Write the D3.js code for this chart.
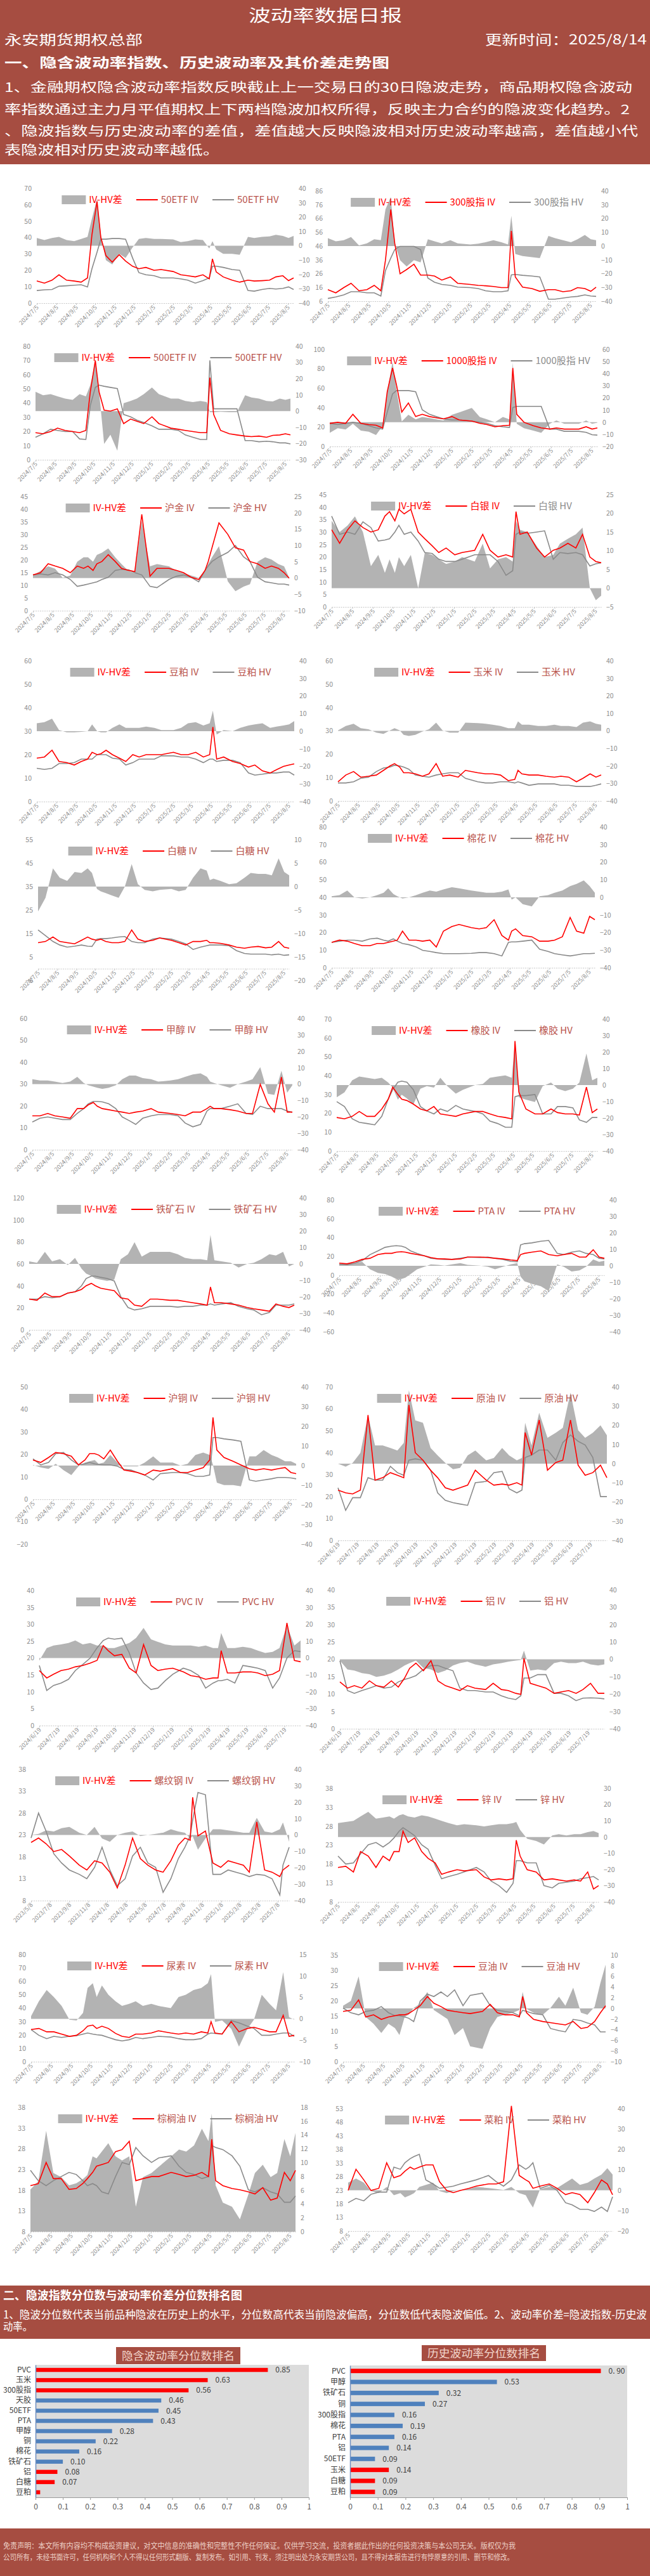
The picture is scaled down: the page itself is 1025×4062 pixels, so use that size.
<!DOCTYPE html>
<meta charset="utf-8">
<style>
body { margin: 0; background: #fff; }
svg text { font-family: "Noto Sans CJK SC", "Noto Sans", sans-serif; }
.tk text { font-family: "Liberation Sans Narrow", "Noto Sans CJK SC", sans-serif; }
</style>
<body>
<script src="https://d3js.org/d3.v7.min.js"></script>
<script>
// sample dates (three different x ranges used by the panels)
var DATES_A = ["2024-07-05","2024-07-17","2024-07-29","2024-08-09","2024-08-21","2024-09-02","2024-09-13","2024-09-23","2024-09-30","2024-10-08","2024-10-14","2024-10-22","2024-11-01","2024-11-12","2024-11-22","2024-12-03","2024-12-13","2024-12-24","2025-01-06","2025-01-17","2025-02-05","2025-02-17","2025-02-28","2025-03-12","2025-03-24","2025-04-03","2025-04-08","2025-04-14","2025-04-25","2025-05-09","2025-05-21","2025-06-03","2025-06-13","2025-06-25","2025-07-07","2025-07-17","2025-07-28","2025-08-06","2025-08-14"];
var DATES_B = ["2024-06-19","2024-07-01","2024-07-12","2024-07-24","2024-08-05","2024-08-16","2024-08-28","2024-09-09","2024-09-20","2024-09-30","2024-10-08","2024-10-18","2024-10-30","2024-11-11","2024-11-22","2024-12-04","2024-12-16","2024-12-27","2025-01-08","2025-01-20","2025-02-06","2025-02-18","2025-03-03","2025-03-14","2025-03-26","2025-04-03","2025-04-08","2025-04-18","2025-04-30","2025-05-13","2025-05-26","2025-06-06","2025-06-18","2025-06-30","2025-07-11","2025-07-23","2025-08-04","2025-08-14"];
var DATES_C = ["2023-05-08","2023-06-01","2023-06-25","2023-07-20","2023-08-14","2023-09-08","2023-10-10","2023-11-03","2023-11-28","2023-12-22","2024-01-16","2024-02-09","2024-03-05","2024-03-29","2024-04-23","2024-05-17","2024-06-11","2024-07-05","2024-07-30","2024-08-23","2024-09-13","2024-09-30","2024-10-08","2024-10-25","2024-11-18","2024-12-12","2025-01-06","2025-01-30","2025-02-24","2025-03-20","2025-04-08","2025-05-02","2025-05-27","2025-06-20","2025-07-15","2025-07-25","2025-08-14"];

// x tick labels
var TICKS_A = ["2024-07-05","2024-08-05","2024-09-05","2024-10-05","2024-11-05","2024-12-05","2025-01-05","2025-02-05","2025-03-05","2025-04-05","2025-05-05","2025-06-05","2025-07-05","2025-08-05"];
var TICKS_B = ["2024-06-19","2024-07-19","2024-08-19","2024-09-19","2024-10-19","2024-11-19","2024-12-19","2025-01-19","2025-02-19","2025-03-19","2025-04-19","2025-05-19","2025-06-19","2025-07-19"];
var TICKS_C = ["2023-05-08","2023-07-08","2023-09-08","2023-11-08","2024-01-08","2024-03-08","2024-05-08","2024-07-08","2024-09-08","2024-11-08","2025-01-08","2025-03-08","2025-05-08","2025-07-08"];

// IV, HV and IV-HV per product
var ivEtf50 = [13.5,12.2,14,17.3,14,13.5,12.8,15.4,41.7,62,40,29,25,29.5,25.7,22.5,21,21.8,20,20.5,19.3,17.3,16.7,16,17.3,14.8,27,19,16,14,12.8,14,13.5,13.7,14,16,16.7,13.7,15.4];
var hvEtf50 = [7.7,8.1,8.3,10.3,10.6,10.9,11.2,9.9,21,31,39,39,39.4,39.4,39,27.6,18.6,17.3,16.7,15.4,15.4,14.8,14,12.2,13.7,15.4,22.5,22.5,21.8,20.5,20,7.7,7.3,8.3,9,8.6,9,9.9,8.3];
var dfEtf50 = [5.4,4,5.4,6.2,4,3.2,4.7,6.2,19,32.6,7.6,-10,-13,-5.6,-8.5,-1.2,4.7,5.4,4.7,4.7,4.4,2.5,3.2,4.4,4,-1.9,3.2,-2.6,-5.6,-5.6,-6.3,6.2,5.4,6.2,6.5,7.6,6.9,5.4,6.9];

var ivIdx300 = [14.4,12.1,15.9,19,13.6,14.4,17.5,13.6,35.8,72.5,48,25.9,29,32.8,25,25,24.3,21.3,23.6,19,18.2,17.5,17.2,16.7,15.9,15.9,57,23.6,16.2,15.2,13.2,14.4,14.4,12.9,13.6,15.9,15.2,13.2,16.2];
var hvIdx300 = [8,9.1,10.6,12.9,12.9,12.1,12.1,9.8,28.2,37.3,43.5,45.8,45.8,45.8,43.5,22.8,19.8,18.2,17.5,16.2,15.9,15.2,13.6,12.9,12.9,13.6,25.1,25.4,24.8,24.3,23.6,7.5,7.5,8.3,9.1,9.5,10.6,9.8,9.5];
var dfIdx300 = [5.8,3.5,4.3,6.6,0.5,2,5,4.3,26.5,35.6,2,-10.2,-14.8,-10.2,-11.8,5,3.5,2,4.3,2,1.2,1.7,2.8,4.3,2.8,1.2,21.9,-5.7,-7.2,-8,-8.7,7.3,5.8,4.3,2.8,5,8.1,5,4.3];

var ivEtf500 = [19.1,18.3,19.9,22.3,20.7,19.9,19.1,20.7,47.8,70,47.8,35,34.3,35.9,25.5,28.7,27.1,25.5,30.3,25.5,22.3,21.5,20.7,19.9,19.1,19.1,57.9,31.9,20.7,18.3,17.5,16.7,16.3,16.7,15.9,17.2,17.5,18.3,17.5];
var hvEtf500 = [15.9,18.3,21.5,20.7,19.9,19.9,14.7,14.3,38.2,51,52.6,51.8,51,50.2,31.9,30.3,27.9,26.3,23.9,21.5,21.5,20.7,17.5,15.9,14.3,14.3,70,35.9,35.9,35.9,35.9,13.5,13.5,12.7,13.1,12.7,11.9,11.9,11.2];
var dfEtf500 = [11.9,9.8,10.5,9.1,7.7,7,10.5,9.1,16,30,11.9,-20.2,-14.6,-24.4,4.9,6.3,7.7,10.5,14.6,10.5,7.7,7.7,6.3,5.6,6.3,5.6,-0.7,-0.7,-0.4,-0.7,-0.7,9.8,8.4,7.7,6.3,6,7.7,7,7.7];

var ivIdx1000 = [23.8,24.9,23.8,33.1,23.8,22.6,21.9,19.1,56.4,80.9,63.4,35.4,44.8,30.8,33.1,30.8,29.6,28.4,30.8,27.3,26.1,23.8,22.6,20.3,21.4,21.9,80.9,33.1,24.9,21.4,19.1,17.9,19.1,17.9,17.9,17.9,20.3,17.9,19.1];
var hvIdx1000 = [23.8,22.6,23.8,24.9,23.8,21.4,19.1,17.9,35.4,54.1,57.6,57.6,57.6,56.4,37.8,33.1,30.8,28.4,27.3,27.3,26.1,24.9,23.8,21.4,20.3,19.6,40.1,41.3,41.3,41.3,41.3,17.9,17.9,15.6,15.6,15.6,14.5,12.1,11.7];
var dfIdx1000 = [-8.8,-5,-6,-1.3,-6.9,-7.8,-10.6,-3.2,24.8,50,26.7,0.6,6.2,2.4,4.3,3.4,2.4,1.5,6.2,8.1,11.8,4.3,2.4,0,4.3,2.4,49,-1.3,-5,-6.9,-8.8,-1.3,1.5,-1.3,-1.3,-1.3,1.5,-1.3,-0.4];

var ivGold = [14.1,15,18.5,17.6,16.7,15,17.6,16.7,17.6,15.9,18.5,19.4,22.1,19.4,16.7,15.9,15.4,38,13.6,16.7,16.7,15.9,15,13.2,12.3,15.9,19.4,24.8,34.6,30.1,24.8,23.9,19.4,18.5,16.7,17.6,16.7,15,12.8];
var hvGold = [14.1,14.5,14.1,15,14.1,12.3,9.6,10.1,10.5,11,11.4,12.3,13.2,15.9,16.3,16.1,15,14.1,9.6,9.1,12.3,13.6,14.1,13.2,11.4,15.9,17.6,19.4,21.2,23,25.7,21.2,19.4,13.2,11.4,11,10.5,10.5,10.1];
var dfGold = [0.8,2.2,3.6,2.9,0.1,0.8,5,6.4,6.4,5,7.1,7.8,9.1,6.4,4.3,2.2,1.5,17.5,3.6,4.3,3.6,2.2,1.5,0.8,0.1,2.2,4.3,6.4,9.8,-1,-4,-2.6,-1.9,5,6.4,5.7,4.3,3.6,0.1];

var ivSilver = [30.9,25.5,30.9,34.5,31.8,30,30.9,36.4,38.2,34.5,39.1,37.3,39.1,30,27.3,24.5,21.8,23.6,20.9,21.8,22.7,29.1,22.7,20,20.9,20,38.2,29.1,30,23.6,20,22.7,23.6,25.5,23.6,29.1,20,18.2,17.7];
var hvSilver = [36.4,29.1,30,29.1,34.1,31.8,26.4,26.8,27.3,30,32.7,29.1,30,26.4,21.8,21.4,19.1,18.2,18.2,19.1,20.9,20.9,20.9,18.2,12.7,14.5,29.1,30,29.5,30,30.5,19.1,21.8,21.4,21.8,20.9,16.4,17.3,17.7];
var dfSilver = [18,15,16.8,19.2,15,5.9,8.9,4.1,7.7,4.1,8.3,5.9,8.9,0,9.5,8.9,7.7,6.5,7.1,8.3,7.1,11.9,5.3,7.7,8.3,7.1,18,15.6,15,11.3,8.3,8.9,11.9,13.2,14.4,16.2,0,-3.2,-2];

var ivMeal = [18.5,19,21.9,17.1,16.6,15.6,17.1,18.1,21,20,20.4,21.9,20,18.5,17.1,20,19,20,20,20,21,20,20,21,19,20,31.8,18.1,19,17.1,16.2,14.7,15.6,13.1,12.2,13.6,15,15.6,16.1];
var hvMeal = [14.2,13.7,14.2,16.2,16.2,16.6,18.1,18.1,18.1,20,20,20,18.5,18.1,15.6,16.6,18.1,18.1,18.1,19.5,19.5,19,19,18.1,16.6,18.1,18.1,17.1,17.6,17.6,16.6,12.2,11.3,11.7,12.2,12.2,12.6,12.6,11.3];
var dfMeal = [4.5,5.1,7.1,0.6,-0.6,-0.6,-0.4,0,3.9,0,-0.6,-0.6,1.9,3.9,1.9,1.9,1.9,2.6,1.9,0.6,0.6,1.9,4.5,5.1,3.2,4.5,11.6,-1.9,0.6,0,1.9,3.2,3.9,4.5,1.9,2.6,3.2,3.9,5.8];

var ivCorn = [8.2,11.1,12.6,10.2,10.6,11.1,13.1,15,16,14.5,12.1,12.1,11.6,10.6,11.6,16,10.6,11.1,10.2,13.1,12.1,11.6,11.6,11.1,8.7,9.2,13.1,11.6,11.1,11.1,10.6,10.2,10.6,10.2,8.2,9.7,11.6,10.2,11.1];
var hvCorn = [7.7,7.7,8.2,9.7,10.2,12.6,14.1,14.5,15.3,15,14.5,13.6,11.1,10.6,10.2,11.1,11.6,12.1,12.1,9.7,8.2,7.7,7.7,8.2,8.2,7.7,8.2,7.7,6.7,7.3,7.3,7.3,6.7,6.7,6.2,6.2,6.2,6.7,7.3];
var dfCorn = [0.3,2.8,4.1,1.5,0.9,-1,-1.7,0.3,1.5,0.3,-2.3,-2.9,-2.3,-0.4,0.9,4.7,0.3,-1,-1,4.7,4.4,4.1,3.5,2.8,1.5,1.5,5.4,3.5,3.5,2.8,2.8,3.5,2.8,2.8,2.2,4.7,5.4,4.1,3.5];

var ivSugar = [11.1,11.6,13.5,11.6,11.1,10.6,12.1,13.5,12.6,12.1,12.6,11.6,11.1,11.1,11.6,16.5,12.6,11.6,12.1,13.1,12.1,11.1,10.1,11.6,11.6,12.1,11.1,11.1,10.8,10.1,9.2,8.7,9.2,9.5,8.9,9.2,11.6,9.2,8.7];
var hvSugar = [16.5,14.1,11.6,10.1,9.2,9.6,10.1,9.6,9.5,12.6,12.8,12.8,13.1,13.5,13.7,11.6,11.1,11.1,12.6,13.1,12.6,11.6,10.6,8.2,9.2,9.8,10.1,10.1,10.1,9.8,7.7,6.5,6.2,6.2,6.2,5.9,6.2,5.7,5.9];
var dfSugar = [-5.3,-2.4,3.9,1.9,1.2,3.1,2.9,3.9,2.9,-0.5,-1,-1.4,-1.9,-2.4,0,4.8,0.5,-0.7,-1,-0.7,-0.5,-1,-0.7,1.9,3.9,3.4,1.4,1.7,1.2,0.5,0.7,1.9,2.9,2.7,2.7,2.4,6,3.1,2.4];

var ivCotton = [14.4,15.7,15.1,13.8,12.5,12.5,13.8,13.8,14.4,15.1,15.7,20.8,15.7,15.7,15.1,15.7,11.8,20.8,23.4,24.6,22.8,22.1,22.8,27.3,18.3,15.7,20.8,22.1,18.3,17.6,15.1,15.1,15.7,17.6,28.6,20.8,19.6,29.2,27.3];
var hvCotton = [14.4,15.1,15.7,15.7,15.1,16.4,16.8,15.7,15.1,16.4,15.1,13.8,13.1,11.8,9.9,9.3,8.6,8,8,8,8.2,8.6,8.6,8,6.7,14.4,14.7,14.7,15.1,15.7,10.5,9.3,8,7.3,6.7,7.3,8,8,8.2];
var dfCotton = [0.6,1.3,3.9,0,-0.6,0,1.3,2.6,5.1,1.9,0.6,-0.6,0,1.3,2.6,3.9,3.2,4.5,5.8,5.1,3.9,3.2,2.6,2.6,3.2,4.5,-1.3,0,-3.9,-5.1,0.6,1.3,2.6,3.9,6.4,7.7,9.6,6.4,2.6];

var ivMethanol = [15.5,15.5,16.6,15.5,15,14.4,18.8,18.8,20.5,21.6,19.9,18.8,18.3,17.7,17.2,16.6,17.2,17.7,18.8,17.2,16.6,16.1,15.5,17.2,17.2,18.8,19.9,18.8,18.8,18.3,17.7,16.6,16.6,29.9,21,17.2,33.2,17.2,17.2];
var hvMethanol = [12.7,14.4,15,14.4,13.8,13.8,16.6,18.8,21,22.1,22.1,21.9,21,18.8,15,13.3,11.6,14.4,15.5,16.1,16.1,15.5,12.2,10.5,11.6,17.7,18.8,18.8,18.8,19.9,21,16.6,16.1,19.9,18.8,18.8,18.8,17.7,17.2];
var dfMethanol = [3,2.2,2.2,1.5,0.7,1.5,4.4,0.7,-0.7,-1.5,-2.2,-2.9,-2.2,-0.7,3,5.2,5.2,3.7,3,1.5,2.2,3,4.4,5.9,6.6,4.4,1.5,0.7,-0.7,-2.2,0,1.5,3,10.3,-5.9,-6.6,8.1,-5.2,-0.7];

var ivRubber = [17.8,17.1,18.4,21,18.4,18.4,22.3,27.5,33.9,30,27.5,26.8,24.9,22.3,21.3,23.6,19.7,19.1,18.4,19.7,21,21,19.7,18.4,17.8,17.1,58.4,31.3,22.3,19.7,19.7,22.3,20.4,19.7,19.7,19.1,33.9,20.4,22.3];
var hvRubber = [26.2,23.6,17.1,15.2,14.6,13.9,18.4,27.5,32.6,36.5,37.1,36.5,32.6,23.6,21.3,19.7,22.3,21,24.2,22.3,21,19.7,15.9,14.6,12.6,12.6,28.8,29.4,29.4,30,19.7,19.7,23.6,23.6,22.9,16.5,15.2,17.8,17.8];
var dfRubber = [-7.4,-4.4,2.9,5.2,4.4,3.7,4.4,1.5,-1.5,-8.8,-5.9,-8.1,-11.8,-2.2,-0.7,-1.5,4.4,-0.7,-5.2,-2.9,0,0.7,4.4,5.2,5.9,4.4,26.5,-7.4,-8.8,-10.3,-0.7,1.5,-2.2,-3.7,-2.2,1.5,19.1,2.9,4.4];

var ivIron = [28,26.9,33.5,30.2,30.2,33.5,34.6,36.8,40.1,42.3,40.1,37.9,36.8,35.7,29.1,28,22.5,21.4,28,28,26.9,26.9,25.8,24.7,23.6,22.5,39,24.7,24.7,23.6,22.5,20.3,19.2,18.1,17,23.6,21.4,20.3,22.5];
var hvIron = [28,28,30.2,29.1,30.2,33.5,34.6,40.1,46.7,48.9,48.9,47.8,46.7,44.5,30.2,20.3,18.1,19.2,21.4,21.4,21.4,20.7,21.4,21.4,22.5,22.5,23.6,22.5,23.6,24.7,21.4,19.2,18.1,13.7,15.9,22.5,22.5,22.5,23.6];
var dfIron = [1.5,0.7,7.3,1.5,2.9,-0.7,3.7,-2.9,-5.9,-7.3,-8.8,-9.5,-10.3,-9.5,2.9,5.9,13.2,4.4,7.3,7.3,7.3,5.9,3.7,2.9,2.9,2.2,17.6,2.2,1.5,0.7,-2.2,0,0.7,2.9,5.9,5.1,7.3,-1.5,0];

var ivPta = [12.9,12.1,14.2,16.8,18,21.9,23.2,23.2,24.5,25,24.5,23.2,21.9,20.6,18.8,17.3,17.3,16.8,17.3,19.3,19.3,18.8,18,17.3,16.2,15.5,21.9,23.2,24.5,25.8,21.9,20.6,21.9,23.2,19.3,19.3,27.1,19.3,18];
var hvPta = [11.6,11.1,12.9,15.5,21.9,25.8,29.6,30.9,31.4,30.9,29.6,25.8,23.2,20.6,18,17.3,16.8,16.8,18,19.3,18.8,19.3,18,16.8,14.7,14.2,32.2,33.5,34.3,36.1,36.9,23.2,21.9,24.5,25.8,23.2,21.9,18,17.3];
var dfPta = [0.9,1.6,1.6,2.4,-2.1,-4.3,-5,-6.5,-8,-8,-7.2,-5,-2.1,-0.6,0.9,0.6,0.1,0.9,1.6,0.6,0.1,-0.6,-2.1,-0.6,0.9,1.6,-6.5,-9.4,-10.9,-12.4,-15.3,0.9,-0.6,-3.5,-2.8,-0.6,3.8,2.4,3.1];

var ivCopper = [17.5,16.4,18.6,20.8,20.3,19.2,15.3,17.5,20.3,20.3,19.7,18,21.9,16.9,13,12.5,11.9,10.8,13,12.5,13.6,11.9,11.9,13,14.1,17.5,36.4,21.9,18.6,16.9,15.3,13.6,13,13.6,13,13.6,14.1,11.9,11.4];
var hvCopper = [18,15.3,16.4,20.3,20.8,17.5,15.3,15.8,16.4,15.8,15.5,15.3,15.3,14.7,13.3,13,11.9,10.8,8.6,11.4,11.9,11.9,11.4,10.2,10.2,10.8,27.5,27.5,26.9,26.4,25.8,8.6,8,8.6,9.1,9.7,9.7,9.5,9.1];
var dfCopper = [0.3,-1,-1.7,0.9,-2.3,-4.8,-0.4,1.5,2.2,2.8,0.9,1.5,5.4,1.5,-0.4,-0.4,-0.4,1.5,4.7,1.5,1.5,0,0.9,5.4,6.6,5.4,0.3,-8.7,-9.9,-9.9,-10.6,4.7,4.7,7.9,5.4,4.1,2.2,2.2,0.9];

var ivCrude = [22.9,21.7,21.2,22.9,57.2,27.5,28.6,30.9,29.7,28.6,61.8,40,36.6,32,28.6,24,22.9,24,25.2,32,27.5,25.2,25.7,25.2,26.3,25.2,49.2,38.9,54.9,32,35.5,36.6,54.9,34.3,29.7,30.9,34.3,28.6];
var hvCrude = [24,13.7,19.5,19.5,28.6,27.5,27.5,33.8,30.9,29.7,36.6,37.2,36.6,32,21.7,18.3,17.2,16.6,16,26.3,26.9,30.9,31.5,23.5,21.7,22.9,37.8,38.9,41.2,41.2,36.6,44.6,48.1,45.2,43.5,37.8,20,20];
var dfCrude = [0,-1.6,0.4,5.6,25.2,9.5,9.5,8.2,6.9,10.8,38.3,22.6,21.3,8.2,4.3,0.4,-2.9,-2.2,4.3,6.9,1.7,3,8.2,4.3,1.7,3,21.3,9.5,26.5,13.5,16.1,18.7,37,17.4,13.5,16.1,20,14.8];

var ivPvc = [16.3,14.1,15.2,16.3,16.7,17.4,17.8,18.5,19.3,23.7,22.2,20.7,21.1,17,15.6,24,17.8,16.3,16.7,17,15.9,14.8,14.4,13.7,14.1,14.1,22.2,15.6,15.6,15.9,15.9,15.6,14.8,15.2,16.3,30.4,19.3,18.9];
var hvPvc = [17.8,10.4,11.9,12.6,13.7,16.3,18.1,20,23,25.2,25.9,25.6,25.9,21.5,15.6,12.6,10.7,11.1,13.3,15.2,17,16.3,14.8,11.1,12.6,13.3,13.3,13.7,12.6,17.8,17.4,17,16.3,11.1,14.1,20,22.2,21.9];
var dfPvc = [-1.5,5.9,7.4,8.1,8.9,10.4,8.1,8.9,7.4,7.4,5.9,5.9,7.4,8.9,11.9,17.8,11.1,9.6,8.1,7.4,7.4,7.4,6.7,7.4,5.9,5.9,14.8,5.9,5.9,6.7,5.9,4.4,3,3.7,5.9,19.3,7.4,10.4];

var ivAlu = [13.5,11.7,12.4,11.7,13.8,12.4,12,13.8,12,14.6,17.4,18.9,16.7,19.6,13.8,12.4,11.7,11,12.4,11.7,11.3,13.1,11.3,11,10.2,9.9,20.3,13.1,12.4,11.7,10.2,10.6,11,10.2,11.3,13.1,10.2,10.2];
var hvAlu = [19.6,11,10.2,11,11.7,12.4,11.7,12,13.5,14.2,14.6,15.3,17.1,18.2,18.2,17.4,16.7,11.7,11,11,10.6,10.6,9.5,8.8,8.4,9.5,14.6,14.6,15.6,15.6,10.2,10.2,9.5,8.1,8.8,8.9,8.8,8.6];
var dfAlu = [-0.7,-5.8,-6.5,-7.9,-8.6,-10.1,-9.4,-7.9,-5.8,-3.6,-2.2,-0.7,-5,-5.8,-7.9,-6.5,-3.6,-2.2,-1.4,-2.9,-4.3,-2.9,-2.2,-1.4,-0.7,-0.4,5,-6.5,-5.8,-6.5,-2.2,-1.4,-2.2,-2.2,-1.4,-2.9,-3.6,-2.9];

var ivRebar = [21.3,22.3,21,19.2,19.7,18.2,16.1,15,17.1,16.6,14.5,10.9,16.1,22.3,17.6,16.1,15,14.5,17.1,20.7,22.3,21.8,31.6,22.8,23.9,16.6,15.6,17.1,16.6,16.1,14.5,26,15,14.5,13.5,15,16.1];
var hvRebar = [22.3,28,23.9,18.7,16.6,15,14,13,15.6,20.2,15,11.4,13,18.2,20.2,16.6,15.6,9.9,13,17.6,20.2,22.8,26.4,32.7,32.2,14,14,15,14.5,14,13.5,14,13.8,13,9.3,16.1,20.2];
var dfRebar = [0,0.7,2.8,2.1,4.2,4.9,1.4,0,4.9,-2.1,-4.2,0,1.4,2.1,-0.7,0,0.7,1.4,3.5,2.1,1.4,-2.1,-0.7,-9,-2.1,3.5,3.5,2.8,2.1,1.4,1.4,10.4,2.1,1.4,3.5,7.6,-4.2];

var ivZinc = [17.1,17.4,15.9,21.3,20.1,17.1,20.1,18.9,21.3,21.3,26.7,23.7,24.9,21.3,19.5,18.3,15.3,15.9,16.5,16.2,16.5,14.6,13.8,14.1,13.8,14.1,24.3,20.1,16.5,15.9,13.8,14.1,13.8,13.5,13.8,13.5,15.9,11.4,12.3];
var hvZinc = [20.1,18,18.3,20.7,23.1,23.7,22.5,23.7,24.9,26.7,27.6,26.7,25.5,23.1,21.9,17.7,14.1,14.7,15.3,15.9,17.1,15.9,13.5,12.3,10.5,12.9,18.9,18.9,18.3,18.3,12.3,11.7,12.9,13.2,13.5,14.1,14.4,14.7,13.8];
var dfZinc = [8.6,9.3,10,12.7,15.5,11.3,12,12.7,11.3,13.4,14.1,12.7,12,13.4,12.7,11.3,10,8.6,7.2,7.9,7.2,6.5,7.2,7.9,7.9,8.6,9.3,4.4,-1.1,-2.5,-4.6,1,1.7,1,1.7,1.7,3,3.7,2.4];

var ivUrea = [24,24.8,22.3,22.3,20.6,18.9,19.7,23.1,26.5,27.3,24.8,26.5,24.8,21.1,18.9,18.1,20.6,20.6,21.4,23.1,21.4,20.6,21.4,20.6,22.3,21.4,29.9,21.4,20.6,29.9,22.3,24.8,25.7,24,22.3,22.3,34.6,18.9,19.7];
var hvUrea = [24,19.7,17.2,18.9,18.1,18.9,19.4,20.6,21.4,20.6,20.1,19.7,18.1,16.4,15.5,16.4,18.1,17.2,18.1,18.9,18.4,17.2,16.4,16.4,17.2,20.6,21.4,21.1,20.6,30.7,29,26.5,24.8,19.7,19.7,20.6,21.4,21.4,18.9];
var dfUrea = [0.6,4.1,6.7,5.1,3,-0.2,-0.4,1.4,7.2,8.3,5.1,7.8,5.6,4.1,3,3.5,4.1,3,3.5,3,2.5,5.1,5.6,6.7,7.2,8.3,10.4,-0.7,-0.4,-2.3,-6.5,-2.3,-0.2,5.6,3.5,2,10.9,0.4,-0.2];

var ivSoyOil = [16.5,16.9,20.3,14.7,15.4,13.9,14.7,15.1,15.4,15.4,15.8,16.9,18.4,21.4,19.2,18.1,16.9,16.5,16.1,15.8,16.5,18.8,16.1,15.4,15.4,14.7,21.4,16.1,13.9,13.2,12.8,12.4,12.1,13.2,10.9,11.3,13.2,16.1,18.4];
var hvSoyOil = [17.6,16.1,15.4,16.5,16.9,18.1,16.1,15.1,15.1,14.7,14.3,13.2,19.9,22.2,21.4,22.9,21.4,23.6,18.4,21.8,22.5,18.4,16.9,16.5,16.1,15.1,16.9,16.5,15.8,15.4,10.9,10.2,9.8,13.9,13.5,12.7,12.1,9.8,9.8];
var dfSoyOil = [0.5,1.4,6,-1.6,-2.9,-4.6,-2.9,-3.7,-5,-1.6,-1.2,0.1,0.9,3.1,-0.3,-1.2,-2,-5,-3.7,-7.1,-7.6,-3.7,-1.6,-1.2,-0.8,-0.3,3.1,-0.1,-0.8,-1.2,0.1,2.2,0.5,3.9,-0.8,-1.2,0.3,4.8,8.2];

var ivPalm = [19.1,19.6,24.7,20.8,20.8,18.2,18.4,19.6,20.8,22.3,23.8,24.2,24.7,27.3,27.8,29.8,20.3,20.8,21.3,21.3,22.3,21.8,21.3,21.6,22.3,21.3,30.3,20.3,19.1,18.4,18.1,17.6,17.1,18.6,15.6,16.1,22.3,20.3,22.8];
var hvPalm = [22.8,20.3,19.1,20.3,21.3,22.3,21.8,20.3,19.1,19.6,19.1,17.6,17.1,21.3,24.7,24.2,28.3,26.3,24.7,25.8,26.3,23.8,22.3,21.8,20.8,21.3,28.8,28.3,27.8,26.3,23.8,18.1,17.6,18.6,17.6,17.1,15.1,15.1,16.6];
var dfPalm = [6.1,7.3,14.6,8.5,7.9,6.7,7,7.6,8.2,10.9,10.6,11.6,12.8,10.9,10.3,10.9,3.6,7.9,8.5,9.4,10.9,11.9,11.6,12.5,14.9,13.1,17.1,6.7,4.2,3.6,1.8,5.4,8.5,9.7,7.9,8.5,13.4,10.9,14.3];

var ivRapeMeal = [22.9,30.7,26.8,22.9,23.7,33.1,27.6,28.4,30,31.5,30.7,31.5,32.3,32.3,26.1,22.9,22.1,22.9,23.7,24.5,25.3,25.3,26.1,54,28.4,26.8,26.1,23.7,24.5,25.3,23.7,21.4,22.1,21.4,18.4,22.1,26.8,25.3,21.3];
var hvRapeMeal = [18.4,20,19.1,21.5,22.3,22.3,31.5,30.7,33.1,34.6,35.4,36.2,26.8,25.3,23.7,24.1,24.5,25.3,26.1,26.8,28.4,26.1,24.5,26.8,32.3,30.7,31.5,33.1,23.7,24.8,22.9,18.4,17.6,16,16,15.2,16.8,15.2,20.6];
var dfRapeMeal = [3.7,5.7,3.7,-0.4,-1.4,1.6,-2.4,-1.4,-3.5,-2.4,-1.4,1.6,2.6,3.7,-0.4,-1.4,-0.4,0.1,0.6,1.6,1.1,0.6,0.1,1.6,-1.4,-2.4,-5.5,-8.5,0.6,1.6,1.1,3.7,5.7,2.6,3.7,5.7,7.7,10.8,7.7];

// percentile rankings
var ivRankNames = ["PVC","玉米","300股指","天胶","50ETF","PTA","甲醇","铜","棉花","铁矿石","铝","白糖","豆粕"];
var ivRankValues = [0.85,0.63,0.56,0.46,0.45,0.43,0.28,0.22,0.16,0.10,0.08,0.07,0.017];
var ivRankGroup = ["hi","hi","hi","mid","mid","mid","mid","mid","mid","mid","lo","lo","lo"];
var ivRankLabels = ["0.85","0.63","0.56","0.46","0.45","0.43","0.28","0.22","0.16","0.10","0.08","0.07",""];
var hvRankNames = ["PVC","甲醇","铁矿石","铜","300股指","棉花","PTA","铝","50ETF","玉米","白糖","豆粕"];
var hvRankValues = [0.905,0.53,0.32,0.27,0.16,0.19,0.16,0.14,0.09,0.14,0.09,0.09];
var hvRankGroup = ["hi","mid","mid","mid","mid","mid","mid","mid","mid","lo","lo","lo"];
var hvRankLabels = ["0. 90","0.53","0.32","0.27","0.16","0.19","0.16","0.14","0.09","0.14","0.09","0.09"];

// ---------- layout ----------
var BAND = "#a64d41";
var W = 1025, H = 4062;
var svg = d3.select("body").append("svg").attr("width", W).attr("height", H);
var parse = d3.timeParse("%Y-%m-%d");
var fmtDate = d3.timeFormat("%Y/%-m/%-d");

function words(x, y, s, size, len, fill, bold, anchor) {
  var t = svg.append("text").attr("x", x).attr("y", y).attr("font-size", size)
    .attr("fill", fill || "#fff").text(s);
  if (len) t.attr("textLength", len).attr("lengthAdjust", "spacingAndGlyphs");
  if (bold) t.attr("font-weight", "bold");
  if (anchor) t.attr("text-anchor", anchor);
  return t;
}

// header band
svg.append("rect").attr("x", 0).attr("y", 0).attr("width", W).attr("height", 259).attr("fill", BAND);
words(392, 34, "波动率数据日报", 26, 242);
words(7, 70, "永安期货期权总部", 21, 218);
words(765, 70, "更新时间：2025/8/14", 21, 255);
words(7, 106, "一、隐含波动率指数、历史波动率及其价差走势图", 21, 607, null, true);
words(7, 145, "1、金融期权隐含波动率指数反映截止上一交易日的30日隐波走势，商品期权隐含波动", 20, 990);
words(7, 180, "率指数通过主力月平值期权上下两档隐波加权所得，反映主力合约的隐波变化趋势。2", 20, 986);
words(7, 214, "、隐波指数与历史波动率的差值，差值越大反映隐波相对历史波动率越高，差值越小代", 20, 999);
words(7, 244, "表隐波相对历史波动率越低。", 20, 339);

// box = [x0, x1, yTop, yBottom]; left/right = [min, max, step]
var panels = [
  {name: "50ETF", d: DATES_A, t: TICKS_A, iv: ivEtf50, hv: hvEtf50, df: dfEtf50, box: [58,463,297,478], left: [0,70,10], right: [-40,40,10]},
  {name: "300股指", d: DATES_A, t: TICKS_A, iv: ivIdx300, hv: hvIdx300, df: dfIdx300, box: [517,940,301,475], left: [6,86,10], right: [-40,40,10], rg: true},
  {name: "500ETF", d: DATES_A, t: TICKS_A, iv: ivEtf500, hv: hvEtf500, df: dfEtf500, box: [56,458,546,725], left: [0,80,10], right: [-30,40,10]},
  {name: "1000股指", d: DATES_A, t: TICKS_A, iv: ivIdx1000, hv: hvIdx1000, df: dfIdx1000, box: [520,942,551,704], left: [0,100,20], right: [-20,60,10], rg: true},
  {name: "沪金", d: DATES_A, t: TICKS_A, iv: ivGold, hv: hvGold, df: dfGold, box: [52,456,783,963], left: [0,45,5], right: [-10,25,5]},
  {name: "白银", d: DATES_A, t: TICKS_A, iv: ivSilver, hv: hvSilver, df: dfSilver, box: [523,948,780,957], left: [0,45,5], right: [-5,25,5], rg: true},
  {name: "豆粕", d: DATES_A, t: TICKS_A, iv: ivMeal, hv: hvMeal, df: dfMeal, box: [58,464,1042,1264], left: [0,60,10], right: [-40,40,10]},
  {name: "玉米", d: DATES_A, t: TICKS_A, iv: ivCorn, hv: hvCorn, df: dfCorn, box: [533,948,1042,1263], left: [0,60,10], right: [-40,40,10]},
  {name: "白糖", d: DATES_A, t: TICKS_A, iv: ivSugar, hv: hvSugar, df: dfSugar, box: [60,456,1324,1546], left: [-5,55,10], right: [-20,10,5]},
  {name: "棉花", d: DATES_A, t: TICKS_A, iv: ivCotton, hv: hvCotton, df: dfCotton, box: [523,938,1304,1526], left: [0,80,10], right: [-40,40,10]},
  {name: "甲醇", d: DATES_A, t: TICKS_A, iv: ivMethanol, hv: hvMethanol, df: dfMethanol, box: [51,461,1606,1813], left: [0,60,10], right: [-40,40,10]},
  {name: "橡胶", d: DATES_A, t: TICKS_A, iv: ivRubber, hv: hvRubber, df: dfRubber, box: [531,942,1607,1815], left: [0,70,10], right: [-40,40,10]},
  {name: "铁矿石", d: DATES_A, t: TICKS_A, iv: ivIron, hv: hvIron, df: dfIron, box: [46,464,1889,2097], left: [0,120,20], right: [-40,40,10]},
  {name: "PTA", d: DATES_A, t: TICKS_A, iv: ivPta, hv: hvPta, df: dfPta, box: [535,953,1892,2100], left: [-60,80,20], right: [-40,40,10]},
  {name: "沪铜", d: DATES_A, t: TICKS_A, iv: ivCopper, hv: hvCopper, df: dfCopper, box: [52,467,2187,2435], left: [-20,50,10], right: [-40,40,10]},
  {name: "原油", d: DATES_B, t: TICKS_B, iv: ivCrude, hv: hvCrude, df: dfCrude, box: [533,957,2187,2429], left: [0,70,10], right: [-40,40,10]},
  {name: "PVC", d: DATES_B, t: TICKS_B, iv: ivPvc, hv: hvPvc, df: dfPvc, box: [62,474,2508,2721], left: [0,40,5], right: [-40,40,10]},
  {name: "铝", d: DATES_B, t: TICKS_B, iv: ivAlu, hv: hvAlu, df: dfAlu, box: [536,953,2507,2726], left: [0,40,5], right: [-40,40,10]},
  {name: "螺纹钢", d: DATES_C, t: TICKS_C, iv: ivRebar, hv: hvRebar, df: dfRebar, box: [49,456,2790,2997], left: [8,38,5], right: [-40,40,10]},
  {name: "锌", d: DATES_A, t: TICKS_A, iv: ivZinc, hv: hvZinc, df: dfZinc, box: [533,944,2820,2999], left: [8,38,5], right: [-40,30,10]},
  {name: "尿素", d: DATES_A, t: TICKS_A, iv: ivUrea, hv: hvUrea, df: dfUrea, box: [49,464,3082,3251], left: [0,80,10], right: [-10,15,5]},
  {name: "豆油", d: DATES_A, t: TICKS_A, iv: ivSoyOil, hv: hvSoyOil, df: dfSoyOil, box: [541,955,3083,3251], left: [0,35,5], right: [-10,10,2]},
  {name: "棕榈油", d: DATES_A, t: TICKS_A, iv: ivPalm, hv: hvPalm, df: dfPalm, box: [48,466,3323,3519], left: [8,38,5], right: [0,18,2]},
  {name: "菜粕", d: DATES_A, t: TICKS_A, iv: ivRapeMeal, hv: hvRapeMeal, df: dfRapeMeal, box: [549,966,3325,3518], left: [8,53,5], right: [-20,40,10]}
];

function styleAxis(g, size) {
  g.attr("class", "tk").attr("font-size", size).attr("font-family", null);
  g.selectAll("text").attr("fill", "#8c8c8c");
}

panels.forEach(function(p) {
  var x0 = p.box[0], x1 = p.box[1], yT = p.box[2], yB = p.box[3];
  var dates = p.d.map(parse);
  var x = d3.scaleTime().domain([dates[0], dates[dates.length - 1]]).range([x0, x1]);
  var yl = d3.scaleLinear().domain([p.left[0], p.left[1]]).range([yB, yT]);
  var yr = d3.scaleLinear().domain([p.right[0], p.right[1]]).range([yB, yT]);
  var g = svg.append("g");

  // y axes: labels only
  var la = g.append("g").attr("transform", "translate(" + x0 + ",0)")
    .call(d3.axisLeft(yl).tickValues(d3.range(p.left[0], p.left[1] + 1e-9, p.left[2])).tickSize(0).tickPadding(8));
  la.select(".domain").remove();
  styleAxis(la, 10.5);
  var ra = g.append("g").attr("transform", "translate(" + x1 + ",0)")
    .call(d3.axisRight(yr).tickValues(d3.range(p.right[0], p.right[1] + 1e-9, p.right[2])).tickSize(0).tickPadding(8));
  ra.select(".domain").remove();
  styleAxis(ra, 10.5);

  // category axis sits on left value 0 (or the bottom)
  var base = (p.left[0] < 0 && p.left[1] > 0) ? 0 : p.left[0];
  var xa = g.append("g").attr("transform", "translate(0," + yl(base) + ")")
    .call(d3.axisBottom(x).tickValues(p.t.map(parse)).tickFormat(fmtDate).tickSize(3).tickSizeOuter(0));
  xa.select(".domain").attr("stroke", "#c8c8c8").attr("stroke-dasharray", "2,1.5");
  xa.selectAll(".tick line").attr("stroke", "#c8c8c8");
  styleAxis(xa, 9.5);
  xa.selectAll("text").attr("x", -3).attr("y", 4).attr("dy", "0.35em")
    .attr("transform", "rotate(-45)").style("text-anchor", "end");

  var ds = function(arr) { return dates.slice(0, arr.length); };
  var dDf = ds(p.df), dHv = ds(p.hv), dIv = ds(p.iv);

  g.append("path").datum(p.df)
    .attr("d", d3.area().x(function(v, i) { return x(dDf[i]); }).y0(yr(0)).y1(function(v) { return yr(v); }))
    .attr("fill", "#b3b3b3");
  g.append("path").datum(p.hv)
    .attr("d", d3.line().x(function(v, i) { return x(dHv[i]); }).y(function(v) { return yl(v); }))
    .attr("fill", "none").attr("stroke", "#8a8a8a").attr("stroke-width", 1.6);
  g.append("path").datum(p.iv)
    .attr("d", d3.line().x(function(v, i) { return x(dIv[i]); }).y(function(v) { return yl(v); }))
    .attr("fill", "none").attr("stroke", "#ff0000").attr("stroke-width", 1.6);

  // legend, centred over the plot
  var lg = g.append("g").attr("class", "tk");
  var ly = yT + 18, cx = 0;
  var nameColor = "#b9534b";
  lg.append("rect").attr("x", cx).attr("y", ly - 7).attr("width", 38).attr("height", 14).attr("fill", "#b3b3b3");
  cx += 43;
  var t1 = lg.append("text").attr("x", cx).attr("y", ly).attr("dy", "0.35em").attr("font-size", 15).attr("fill", "#ff0000").text("IV-HV差");
  cx += t1.node().getComputedTextLength() + 22;
  lg.append("line").attr("x1", cx).attr("x2", cx + 34).attr("y1", ly).attr("y2", ly).attr("stroke", "#ff0000").attr("stroke-width", 2);
  cx += 39;
  var t2 = lg.append("text").attr("x", cx).attr("y", ly).attr("dy", "0.35em").attr("font-size", 15)
    .attr("fill", p.rg ? "#ff0000" : nameColor).text(p.name + " IV");
  cx += t2.node().getComputedTextLength() + 22;
  lg.append("line").attr("x1", cx).attr("x2", cx + 34).attr("y1", ly).attr("y2", ly).attr("stroke", "#8a8a8a").attr("stroke-width", 2);
  cx += 39;
  var t3 = lg.append("text").attr("x", cx).attr("y", ly).attr("dy", "0.35em").attr("font-size", 15)
    .attr("fill", p.rg ? "#8c8c8c" : nameColor).text(p.name + " HV");
  cx += t3.node().getComputedTextLength();
  lg.attr("transform", "translate(" + ((x0 + x1) / 2 - cx / 2 + 8) + ",0)");
});

// ---------- section two ----------
svg.append("rect").attr("x", 0).attr("y", 3604).attr("width", W).attr("height", 84).attr("fill", BAND);
words(5, 3626, "二、隐波指数分位数与波动率价差分位数排名图", 18, 377, null, true);
words(5, 3656, "1、隐波分位数代表当前品种隐波在历史上的水平，分位数高代表当前隐波偏高，分位数低代表隐波偏低。2、波动率价差=隐波指数-历史波", 17, 1015);
words(5, 3675, "动率。", 17, 46);

var rankColor = {hi: "#ff0000", mid: "#4f81bd", lo: "#ff0000"};

function rankChart(names, values, groups, labels, box, title, tbox) {
  var x0 = box[0], x1 = box[1], y0 = box[2], y1 = box[3];
  var g = svg.append("g");
  g.append("rect").attr("x", tbox[0]).attr("y", tbox[1]).attr("width", tbox[2]).attr("height", tbox[3]).attr("fill", BAND);
  g.append("text").attr("x", tbox[0] + 9).attr("y", tbox[1] + tbox[3] / 2).attr("dy", "0.36em")
    .attr("font-size", 17).attr("fill", "#f2d6cc").attr("textLength", tbox[2] - 18)
    .attr("lengthAdjust", "spacingAndGlyphs").text(title);
  g.append("rect").attr("x", x0).attr("y", y0).attr("width", x1 - x0).attr("height", y1 - y0).attr("fill", "#dcdcdc");
  var x = d3.scaleLinear().domain([0, 1]).range([x0, x1]);
  var y = d3.scaleBand().domain(names).range([y0, y1]).paddingInner(0.6).paddingOuter(0.3);
  g.selectAll(".bar").data(values).enter().append("rect")
    .attr("x", x0).attr("y", function(v, i) { return y(names[i]); })
    .attr("width", function(v) { return x(v) - x0; }).attr("height", y.bandwidth())
    .attr("fill", function(v, i) { return rankColor[groups[i]]; });
  g.selectAll(".lbl").data(labels).enter().append("text")
    .attr("x", function(s, i) { return x(values[i]) + 12; })
    .attr("y", function(s, i) { return y(names[i]) + y.bandwidth() / 2; })
    .attr("dy", "0.35em").attr("font-size", 12).attr("fill", "#404040").text(function(s) { return s; });
  var bx = g.append("g").attr("transform", "translate(0," + y1 + ")")
    .call(d3.axisBottom(x).tickValues(d3.range(0, 1.0001, 0.1)).tickSize(4).tickPadding(6)
      .tickFormat(function(v) { return v === 0 ? "0" : (Math.abs(v - 1) < 1e-9 ? "1" : d3.format(".1f")(v)); }));
  bx.attr("font-size", 12).attr("font-family", null);
  bx.selectAll("path,line").attr("stroke", "#9a9a9a");
  bx.selectAll("text").attr("fill", "#595959");
  var lx = g.append("g").attr("transform", "translate(" + x0 + ",0)")
    .call(d3.axisLeft(y).tickSize(0).tickPadding(7));
  lx.attr("font-size", 12).attr("font-family", null);
  lx.select(".domain").attr("stroke", "#6f8fc0").attr("stroke-width", 1.5);
  lx.selectAll("text").attr("fill", "#404040");
}

rankChart(ivRankNames, ivRankValues, ivRankGroup, ivRankLabels, [56, 487, 3729, 3938], "隐含波动率分位数排名", [183, 3701, 196, 27]);
rankChart(hvRankNames, hvRankValues, hvRankGroup, hvRankLabels, [552, 989, 3730, 3938], "历史波动率分位数排名", [665, 3698, 196, 25]);

// ---------- footer ----------
svg.append("rect").attr("x", 0).attr("y", 3987).attr("width", W).attr("height", H - 3987).attr("fill", BAND);
words(5, 4019, "免责声明：本文所有内容均不构成投资建议，对文中信息的准确性和完整性不作任何保证。仅供学习交流，投资者据此作出的任何投资决策与本公司无关。版权仅为我", 12.5, 808, "#ecd0c6");
words(5, 4037, "公司所有，未经书面许可，任何机构和个人不得以任何形式翻版、复制发布。如引用、刊发，须注明出处为永安期货公司，且不得对本报告进行有悖原意的引用、删节和修改。", 12.5, 805, "#ecd0c6");
</script>
</body>
